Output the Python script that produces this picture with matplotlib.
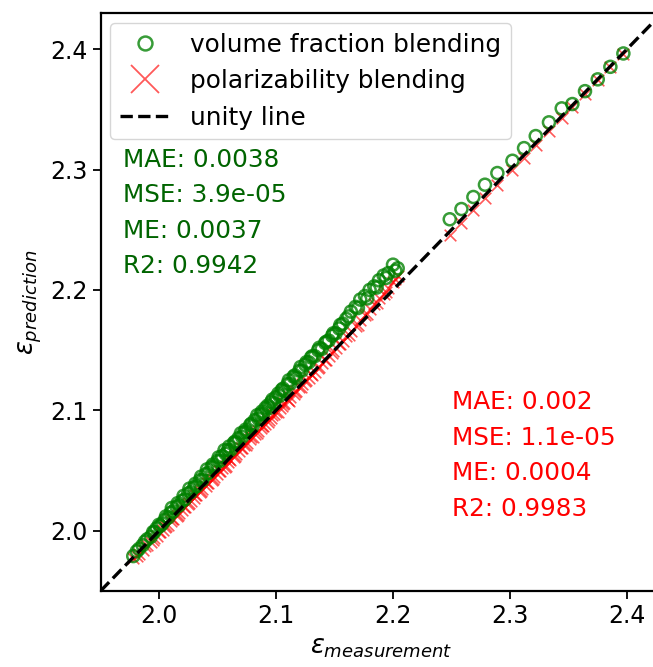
import matplotlib
matplotlib.use("Agg")
import matplotlib.pyplot as plt
from matplotlib.lines import Line2D

# measured permittivity
eps_meas = [1.978, 1.983, 1.986, 1.990, 1.993, 1.996, 1.998, 2.001, 2.003, 2.005,
            2.008, 2.010, 2.012, 2.015, 2.017, 2.020, 2.022, 2.025, 2.027, 2.030,
            2.032, 2.035, 2.037, 2.040, 2.042, 2.045, 2.047, 2.050, 2.052, 2.054,
            2.057, 2.059, 2.061, 2.064, 2.066, 2.068, 2.071, 2.073, 2.075, 2.078,
            2.080, 2.082, 2.085, 2.087, 2.089, 2.091, 2.094, 2.096, 2.098, 2.100,
            2.103, 2.105, 2.107, 2.110, 2.112, 2.115, 2.117, 2.120, 2.122, 2.125,
            2.128, 2.130, 2.133, 2.136, 2.139, 2.142, 2.145, 2.148, 2.151, 2.154,
            2.157, 2.160, 2.164, 2.168, 2.172, 2.176, 2.180, 2.184, 2.188, 2.192,
            2.196, 2.200, 2.204,
            1.981, 1.988, 1.995, 2.000, 2.006, 2.011, 2.016, 2.021, 2.026, 2.031,
            2.036, 2.041, 2.046, 2.051, 2.056, 2.060, 2.065, 2.070, 2.074, 2.079,
            2.084, 2.088, 2.093, 2.097, 2.102, 2.106, 2.111, 2.116, 2.121, 2.126,
            2.131, 2.137, 2.143, 2.149, 2.155, 2.162, 2.170, 2.178, 2.186, 2.194,
            2.202,
            2.2485, 2.2585, 2.2687, 2.2786, 2.2892, 2.3021, 2.3120, 2.3220, 2.3333,
            2.3442, 2.3533, 2.3641, 2.3750, 2.3858, 2.3969]

# volume fraction blending prediction
eps_vol = [1.979, 1.985, 1.988, 1.993, 1.995, 1.999, 2.002, 2.004, 2.006, 2.009,
           2.011, 2.015, 2.016, 2.020, 2.021, 2.025, 2.026, 2.031, 2.032, 2.036,
           2.037, 2.042, 2.042, 2.047, 2.048, 2.053, 2.053, 2.058, 2.058, 2.062,
           2.064, 2.067, 2.067, 2.073, 2.073, 2.077, 2.078, 2.082, 2.082, 2.088,
           2.087, 2.092, 2.093, 2.097, 2.097, 2.102, 2.102, 2.107, 2.106, 2.111,
           2.112, 2.117, 2.116, 2.122, 2.122, 2.128, 2.127, 2.133, 2.133, 2.138,
           2.140, 2.144, 2.145, 2.150, 2.151, 2.156, 2.158, 2.162, 2.164, 2.168,
           2.172, 2.176, 2.182, 2.186, 2.192, 2.195, 2.200, 2.203, 2.208, 2.212,
           2.214, 2.221, 2.218,
           1.983, 1.991, 1.999, 2.005, 2.012, 2.019, 2.023, 2.029, 2.035, 2.039,
           2.045, 2.051, 2.055, 2.061, 2.067, 2.070, 2.074, 2.081, 2.084, 2.089,
           2.096, 2.099, 2.104, 2.109, 2.114, 2.118, 2.125, 2.129, 2.136, 2.140,
           2.145, 2.152, 2.157, 2.164, 2.171, 2.178, 2.185, 2.193, 2.202, 2.210,
           2.216,
           2.2587, 2.2672, 2.2772, 2.2874, 2.2971, 2.3073, 2.3178, 2.3278, 2.3392,
           2.3508, 2.3544, 2.3651, 2.3749, 2.3853, 2.3964]

# polarizability blending prediction
eps_pol = [1.977, 1.981, 1.984, 1.988, 1.991, 1.994, 1.996, 1.999, 2.001, 2.003,
           2.005, 2.008, 2.010, 2.012, 2.015, 2.017, 2.020, 2.022, 2.025, 2.027,
           2.030, 2.032, 2.035, 2.037, 2.040, 2.042, 2.045, 2.047, 2.050, 2.052,
           2.054, 2.057, 2.059, 2.061, 2.064, 2.066, 2.069, 2.071, 2.073, 2.076,
           2.078, 2.080, 2.083, 2.085, 2.087, 2.089, 2.092, 2.094, 2.097, 2.099,
           2.102, 2.104, 2.106, 2.109, 2.111, 2.114, 2.116, 2.119, 2.122, 2.124,
           2.127, 2.130, 2.132, 2.135, 2.139, 2.142, 2.145, 2.148, 2.152, 2.155,
           2.158, 2.162, 2.166, 2.170, 2.175, 2.179, 2.184, 2.188, 2.193, 2.197,
           2.202, 2.207, 2.212,
           1.979, 1.987, 1.992, 1.999, 2.004, 2.010, 2.013, 2.020, 2.023, 2.030,
           2.033, 2.040, 2.043, 2.050, 2.053, 2.060, 2.062, 2.069, 2.071, 2.078,
           2.081, 2.087, 2.090, 2.096, 2.099, 2.105, 2.108, 2.115, 2.119, 2.125,
           2.129, 2.136, 2.142, 2.149, 2.155, 2.163, 2.171, 2.180, 2.189, 2.198,
           2.209,
           2.246, 2.256, 2.266, 2.276, 2.287, 2.300, 2.310, 2.320, 2.332,
           2.343, 2.352, 2.363, 2.374, 2.385, 2.396]

stats_vol = ["MAE: 0.0038", "MSE: 3.9e-05", "ME: 0.0037", "R2: 0.9942"]
stats_pol = ["MAE: 0.002", "MSE: 1.1e-05", "ME: 0.0004", "R2: 0.9983"]
lims = [1.95, 2.43]

fig = plt.figure(figsize=(6.53, 6.67), dpi=100)
ax = fig.add_axes([100.5 / 653, 76 / 667, 561.6 / 653, 578 / 667])

ax.scatter(eps_meas, eps_vol, s=75, facecolors="none", edgecolors="green",
           linewidths=1.8, alpha=0.78, zorder=3)
ax.scatter(eps_meas, eps_pol, s=70, marker="x", color="red",
           linewidths=1.2, alpha=0.65, zorder=2)
ax.plot(lims, lims, "k--", lw=2.4, zorder=4)

ax.set_xlim(lims)
ax.set_ylim(lims)
ax.set_xticks([2.0, 2.1, 2.2, 2.3, 2.4])
ax.set_yticks([2.0, 2.1, 2.2, 2.3, 2.4])
ax.tick_params(labelsize=17, width=1.3, length=6)
for sp in ax.spines.values():
    sp.set_linewidth(1.6)

ax.set_xlabel(r"$\epsilon_{measurement}$", fontsize=18.5)
ax.set_ylabel(r"$\epsilon_{prediction}$", fontsize=18.5)

handles = [
    Line2D([], [], ls="none", marker="o", ms=10, mfc="none", mec="green", mew=1.8, alpha=0.78),
    Line2D([], [], ls="none", marker="x", ms=20, color="red", mew=1.3, alpha=0.65),
    Line2D([], [], ls="--", color="k", lw=2.4),
]
ax.legend(handles, ["volume fraction blending", "polarizability blending", "unity line"],
          loc="upper left", fontsize=17.8, borderaxespad=0.4, handletextpad=0.8)

for i, t in enumerate(stats_vol):
    ax.text(0.04, 0.746 - i * 0.0615, t, transform=ax.transAxes, color="darkgreen",
            fontsize=17.8, va="center")
for i, t in enumerate(stats_pol):
    ax.text(0.626, 0.327 - i * 0.0615, t, transform=ax.transAxes, color="red",
            fontsize=17.8, va="center")

fig.savefig("out.png", dpi=100)
